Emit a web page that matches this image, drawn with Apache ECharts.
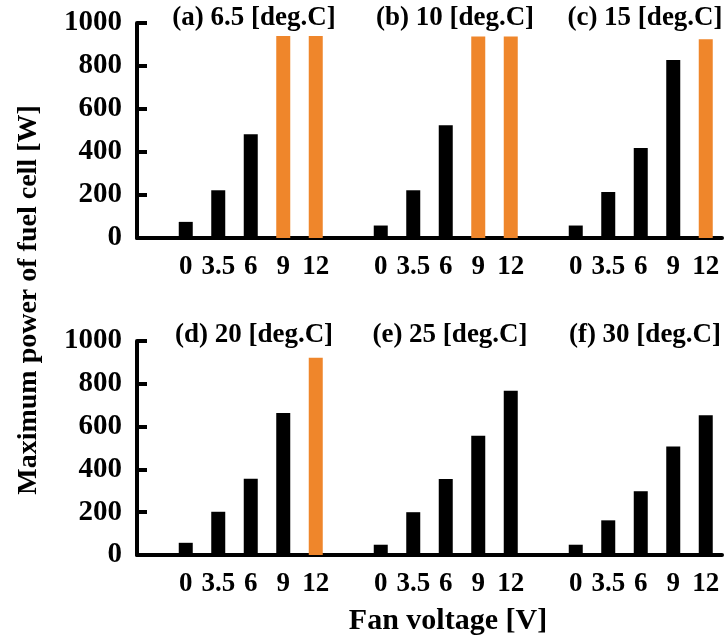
<!DOCTYPE html>
<html>
<head>
<meta charset="utf-8">
<script src="https://cdn.jsdelivr.net/npm/echarts@6/dist/echarts.min.js"></script>
<style>
html,body{margin:0;padding:0;background:#fff;}
#main{width:728px;height:640px;}
</style>
</head>
<body>
<div id="main"></div>
<script>
// fan voltage categories of one panel
var voltages = ['0', '3.5', '6', '9', '12'];

// panel titles
var topTitles = ['(a) 6.5 [deg.C]', '(b) 10 [deg.C]', '(c) 15 [deg.C]'];
var bottomTitles = ['(d) 20 [deg.C]', '(e) 25 [deg.C]', '(f) 30 [deg.C]'];

// maximum power [W] per panel
var powerA = [75, 222, 483, 940, 940];
var powerB = [58, 222, 525, 937, 937];
var powerC = [58, 214, 419, 828, 925];
var powerD = [57, 202, 356, 664, 922];
var powerE = [48, 200, 355, 557, 767];
var powerF = [48, 162, 298, 507, 653];

// bars drawn in orange (1 = orange)
var orangeA = [0, 0, 0, 1, 1];
var orangeB = [0, 0, 0, 1, 1];
var orangeC = [0, 0, 0, 0, 1];
var orangeD = [0, 0, 0, 0, 1];
var orangeE = [0, 0, 0, 0, 0];
var orangeF = [0, 0, 0, 0, 0];

var yTicks = [0, 200, 400, 600, 800, 1000];

var FONT = '"Liberation Serif", "Times New Roman", serif';
var BLACK = '#000000';
var ORANGE = '#EF862B';

// one empty slot before each group of five
function buildCategories(){
	var arr = [];
	for (var g = 0; g < 3; g++) {
		arr.push('');
		for (var i = 0; i < voltages.length; i++) {
			arr.push(voltages[i]);
		}
	}
	return arr;
}

function buildData(groups, flags){
	var arr = [];
	for (var g = 0; g < groups.length; g++) {
		arr.push(null);
		for (var i = 0; i < groups[g].length; i++) {
			arr.push({
				value: groups[g][i],
				itemStyle: {color: flags[g][i] ? ORANGE : BLACK}
			});
		}
	}
	return arr;
}

function xAxisOf(idx){
	return {
		type: 'category',
		gridIndex: idx,
		data: buildCategories(),
		axisTick: {show: false},
		axisLine: {show: true, lineStyle: {color: BLACK, width: 4}},
		axisLabel: {
			interval: 0, margin: 16, color: BLACK,
			fontSize: 27, fontWeight: 'bold', fontFamily: FONT
		}
	};
}

function yAxisOf(idx){
	return {
		type: 'value',
		gridIndex: idx,
		min: yTicks[0],
		max: yTicks[yTicks.length - 1],
		interval: 200,
		splitLine: {show: false},
		axisLine: {show: true, lineStyle: {color: BLACK, width: 4}},
		axisTick: {show: true, inside: true, length: 10, lineStyle: {color: BLACK, width: 4}},
		axisLabel: {
			margin: 15, color: BLACK,
			fontSize: 29, fontWeight: 'bold', fontFamily: FONT,
			padding: [5, 0, 0, 0],
			formatter: function(v){ return String(v); }
		}
	};
}

function titleOf(text, x, y){
	return {
		text: text, left: x, top: y, textAlign: 'center', padding: 0,
		textStyle: {color: BLACK, fontSize: 27, fontWeight: 'bold', fontFamily: FONT}
	};
}

var myChart = echarts.init(document.getElementById('main'));
var option = {
	backgroundColor: '#ffffff',
	animation: false,
	title: [
		titleOf(topTitles[0], 254, 5),
		titleOf(topTitles[1], 455, 5),
		titleOf(topTitles[2], 645, 5),
		titleOf(bottomTitles[0], 254, 322),
		titleOf(bottomTitles[1], 450, 322),
		titleOf(bottomTitles[2], 645, 322)
	],
	grid: [
		{left: 137, right: 6, top: 23, height: 215},
		{left: 137, right: 6, top: 341, height: 214}
	],
	xAxis: [xAxisOf(0), xAxisOf(1)],
	yAxis: [yAxisOf(0), yAxisOf(1)],
	series: [{
		type: 'bar',
		xAxisIndex: 0,
		yAxisIndex: 0,
		barWidth: 14,
		data: buildData([powerA, powerB, powerC], [orangeA, orangeB, orangeC])
	}, {
		type: 'bar',
		xAxisIndex: 1,
		yAxisIndex: 1,
		barWidth: 14,
		data: buildData([powerD, powerE, powerF], [orangeD, orangeE, orangeF])
	}],
	graphic: [{
		type: 'text',
		x: 29, y: 300,
		rotation: Math.PI / 2,
		style: {
			text: 'Maximum power of fuel cell [W]',
			fill: BLACK, font: 'bold 28px ' + FONT,
			textAlign: 'center', textVerticalAlign: 'middle'
		}
	}, {
		type: 'text',
		x: 448, y: 621,
		style: {
			text: 'Fan voltage [V]',
			fill: BLACK, font: 'bold 30px ' + FONT,
			textAlign: 'center', textVerticalAlign: 'middle'
		}
	}]
};
myChart.setOption(option);
</script>
</body>
</html>
